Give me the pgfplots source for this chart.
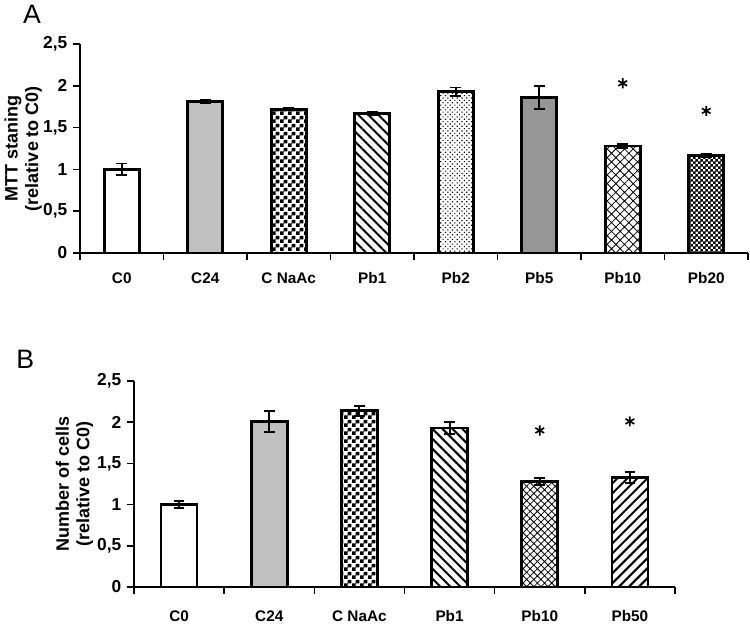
\documentclass[border=0pt]{standalone}
\usepackage{pgfplots}
\pgfplotsset{compat=1.18}
\usepackage{fontspec}
\setmainfont{Liberation Sans}
\usetikzlibrary{patterns,patterns.meta}

\pgfdeclarepatternformonly{bigcheck}{\pgfpointorigin}{\pgfqpoint{6pt}{6pt}}{\pgfqpoint{6pt}{6pt}}{%
  \pgfpathrectangle{\pgfpointorigin}{\pgfqpoint{3pt}{3pt}}%
  \pgfpathrectangle{\pgfqpoint{3pt}{3pt}}{\pgfqpoint{3pt}{3pt}}%
  \pgfusepath{fill}}
\pgfdeclarepatternformonly{smallcheck}{\pgfpointorigin}{\pgfqpoint{4pt}{4pt}}{\pgfqpoint{4pt}{4pt}}{%
  \pgfpathrectangle{\pgfpointorigin}{\pgfqpoint{2.2pt}{2.2pt}}%
  \pgfpathrectangle{\pgfqpoint{2pt}{2pt}}{\pgfqpoint{2.2pt}{2.2pt}}%
  \pgfusepath{fill}}

\pgfplotsset{
  mybar/.style={ybar, bar shift=0pt, draw=black, line width=2pt,
    error bars/y dir=both, error bars/y explicit,
    error bars/error bar style={line width=1.4pt, solid},
    error bars/error mark options={rotate=90, mark size=4pt, line width=1.4pt}},
  mystar/.style={only marks, mark=asterisk, mark size=3.8pt, mark options={line width=1.2pt, black}},
  panel/.style={
    scale only axis, anchor=south west, clip=false,
    axis x line=bottom, axis y line=left,
    axis line style={-, line width=1.4pt},
    ymin=0, ymax=2.5,
    ytick={0,0.5,1,1.5,2,2.5},
    yticklabels={0,{0,5},1,{1,5},2,{2,5}},
    tick align=outside,
    major tick length=5pt,
    minor tick length=5pt,
    tick style={line width=1.2pt, black},
    major x tick style={draw=none},
    /pgf/number format/assume math mode=true,
    yticklabel style={font=\bfseries\fontsize{13}{15}\selectfont, xshift=-1pt},
    xticklabel style={font=\bfseries\fontsize{11.5}{13}\selectfont},
    ylabel style={font=\bfseries\fontsize{13.5}{15.5}\selectfont, align=center, anchor=center},
  },
}

\begin{document}
\begin{tikzpicture}[x=1pt,y=1pt]
\path[use as bounding box] (0,0) rectangle (562.5,469.5);
\node[font=\fontsize{20}{20}\selectfont] at (24,459) {A};
\node[font=\fontsize{20}{20}\selectfont] at (19,200) {B};

% ---------- Panel A ----------
\begin{axis}[panel,
  at={(60pt,279.75pt)}, width=501pt, height=156.75pt,
  xmin=-0.5, xmax=7.5,
  xtick={0,1,2,3,4,5,6,7},
  xticklabels={C0,C24,C NaAc,Pb1,Pb2,Pb5,Pb10,Pb20},
  minor xtick={-0.5,0.5,1.5,2.5,3.5,4.5,5.5,6.5,7.5},
  xticklabel style={yshift=-6pt},
  ylabel={MTT staning\\(relative to C0)},
  ylabel style={at={(axis description cs:-0.085,0.5)}},
]
\addplot[mybar, bar width=26.25pt, fill=white] coordinates {(0,1.00) +- (0,0.07)};
\addplot[mybar, bar width=26.25pt, fill={rgb,255:red,192;green,192;blue,192}] coordinates {(1,1.81) +- (0,0.018)};
\addplot[mybar, bar width=26.25pt, fill=white, pattern=bigcheck, pattern color=black] coordinates {(2,1.72) +- (0,0.012)};
\addplot[mybar, bar width=26.25pt, fill=white, pattern={Lines[angle=-45,distance=5.3pt,line width=1.5pt]}, pattern color=black] coordinates {(3,1.67) +- (0,0.02)};
\addplot[mybar, bar width=26.25pt, fill=white, pattern={Dots[angle=45,distance=2.5pt,radius=0.6pt]}, pattern color=black] coordinates {(4,1.93) +- (0,0.05)};
\addplot[mybar, bar width=26.25pt, fill={rgb,255:red,150;green,150;blue,150}] coordinates {(5,1.86) +- (0,0.14)};
\addplot[mybar, bar width=26.25pt, fill=white, pattern={Hatch[angle=45,distance=4.6pt,line width=0.6pt]}, pattern color=black] coordinates {(6,1.28) +- (0,0.025)};
\addplot[mybar, bar width=26.25pt, fill=white, pattern=smallcheck, pattern color=black] coordinates {(7,1.17) +- (0,0.02)};
\addplot[mystar] coordinates {(6,2.03) (7,1.70)};
\end{axis}

% ---------- Panel B ----------
\begin{axis}[panel,
  at={(100.5pt,29.25pt)}, width=405.75pt, height=154.5pt,
  xmin=-0.5, xmax=5.5,
  xtick={0,1,2,3,4,5},
  xticklabels={C0,C24,C NaAc,Pb1,Pb10,Pb50},
  minor xtick={-0.5,0.5,1.5,2.5,3.5,4.5,5.5},
  xticklabel style={yshift=-9pt},
  ylabel={Number of cells\\(relative to C0)},
  ylabel style={at={(axis description cs:-0.11,0.5)}},
]
\addplot[mybar, bar width=27pt, fill=white] coordinates {(0,1.00) +- (0,0.04)};
\addplot[mybar, bar width=27pt, fill={rgb,255:red,192;green,192;blue,192}] coordinates {(1,2.01) +- (0,0.13)};
\addplot[mybar, bar width=27pt, fill=white, pattern=bigcheck, pattern color=black] coordinates {(2,2.14) +- (0,0.06)};
\addplot[mybar, bar width=27pt, fill=white, pattern={Lines[angle=-45,distance=5.3pt,line width=1.5pt]}, pattern color=black] coordinates {(3,1.93) +- (0,0.07)};
\addplot[mybar, bar width=27pt, fill=white, pattern={Hatch[angle=45,distance=3.8pt,line width=0.6pt]}, pattern color=black] coordinates {(4,1.28) +- (0,0.04)};
\addplot[mybar, bar width=27pt, fill=white, pattern={Lines[angle=45,distance=5.3pt,line width=1.5pt]}, pattern color=black] coordinates {(5,1.33) +- (0,0.07)};
\addplot[mystar] coordinates {(4,1.90) (5,2.01)};
\end{axis}
\end{tikzpicture}
\end{document}
